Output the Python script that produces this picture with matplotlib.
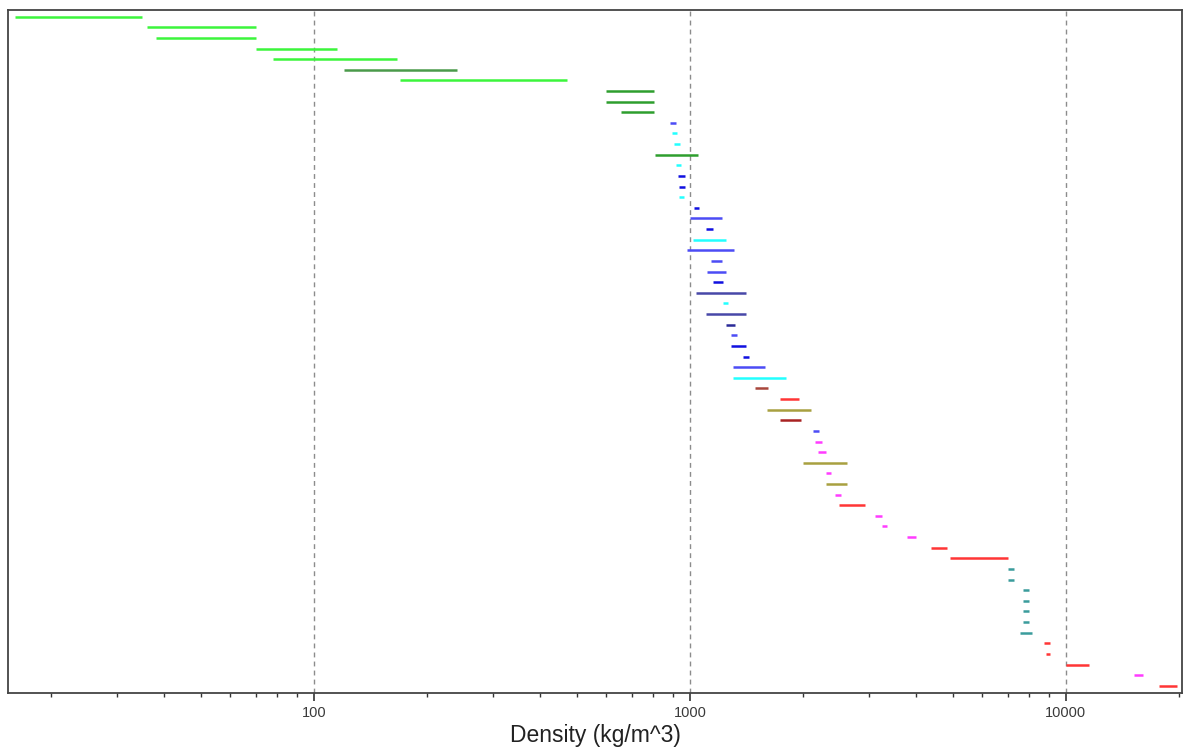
import matplotlib
matplotlib.use("Agg")
import matplotlib.pyplot as plt
from matplotlib.ticker import LogLocator, NullFormatter, FixedLocator, FixedFormatter

# Density ranges (kg/m^3), one row per material, top to bottom
density_low = [16, 36, 38, 70, 78, 120, 170, 600, 600, 655,
               885, 895, 910, 810, 920, 928, 936, 936, 1025, 1003,
               1105, 1018, 982, 1137, 1114, 1155, 1038, 1223, 1105, 1244,
               1287, 1287, 1385, 1300, 1300, 1490, 1740, 1600, 1740, 2125,
               2150, 2190, 2000, 2295, 2295, 2425, 2490, 3100, 3245, 3780,
               4380, 4930, 7030, 7030, 7700, 7700, 7700, 7700, 7560, 8760,
               8830, 10000, 15150, 17700]
density_high = [35, 70, 70, 115, 166, 240, 470, 803, 803, 803,
                916, 922, 941, 1050, 950, 970, 968, 966, 1060, 1217,
                1149, 1250, 1310, 1217, 1250, 1227, 1407, 1260, 1407, 1321,
                1334, 1407, 1433, 1587, 1800, 1617, 1955, 2105, 1975, 2200,
                2243, 2307, 2625, 2368, 2625, 2528, 2925, 3236, 3352, 3985,
                4830, 7020, 7280, 7280, 7980, 7980, 7980, 7980, 8120, 9070,
                9070, 11520, 15990, 19720]
material_group = ["lime", "lime", "lime", "lime", "lime", "sage", "lime", "green", "green", "green",
                  "blue", "cyan", "cyan", "green", "cyan", "pure", "pure", "cyan", "pure", "blue",
                  "pure", "cyan", "blue", "blue", "blue", "pure", "slate", "cyan", "slate", "navy",
                  "blue", "pure", "pure", "blue", "cyan", "brown", "red", "olive", "maroon", "blue",
                  "magenta", "magenta", "olive", "magenta", "olive", "magenta", "red", "magenta", "magenta", "magenta",
                  "red", "red", "teal", "teal", "teal", "teal", "teal", "teal", "teal", "red",
                  "red", "red", "magenta", "red"]
major_ticks = [100, 1000, 10000]
major_labels = ["100", "1000", "10000"]

palette = {
    "lime": "#3cf53c",
    "sage": "#4a9a4a",
    "green": "#2e9e2e",
    "blue": "#4c4cf5",
    "pure": "#1010e0",
    "cyan": "#22ffff",
    "slate": "#4848a8",
    "navy": "#2a2a98",
    "brown": "#a8463c",
    "red": "#ff3535",
    "olive": "#a8a040",
    "maroon": "#a82222",
    "magenta": "#ff3cff",
    "teal": "#3a9c9c",
}

fig = plt.figure(figsize=(11.92, 7.55), dpi=100)
ax = fig.add_axes([0.00696, 0.0821, 0.9846, 0.9047])

rows = list(range(len(density_low)))
ax.hlines(rows, density_low, density_high,
          colors=[palette[g] for g in material_group],
          linewidth=1.8, capstyle="butt", zorder=3)

ax.set_xscale("log")
ax.set_xlim(15.4, 20350)
ax.set_ylim(63.68, -0.63)

# major decades with dashed vertical guides
ax.xaxis.set_major_locator(FixedLocator(major_ticks))
ax.xaxis.set_major_formatter(FixedFormatter(major_labels))
ax.xaxis.set_minor_locator(LogLocator(base=10, subs=range(2, 10)))
ax.xaxis.set_minor_formatter(NullFormatter())
for v in major_ticks:
    ax.axvline(v, color="#8c8c8c", linewidth=1.0, linestyle=(0, (3.5, 3)), zorder=1)

ax.set_yticks([])
ax.tick_params(axis="x", which="major", length=6, width=1.2, color="#333333",
               labelsize=10.5, labelcolor="#3a3a3a", pad=3)
ax.tick_params(axis="x", which="minor", length=3, width=1.0, color="#333333")
for lab in ax.get_xticklabels():
    lab.set_family(["Liberation Sans", "DejaVu Sans"])

for side in ["left", "right", "top", "bottom"]:
    ax.spines[side].set_color("#444444")
    ax.spines[side].set_linewidth(1.3)

ax.set_xlabel("Density (kg/m^3)", fontsize=16.5, color="#222222",
              family=["Liberation Sans", "DejaVu Sans"], labelpad=3)

fig.savefig("out.png", dpi=100, facecolor="white")
